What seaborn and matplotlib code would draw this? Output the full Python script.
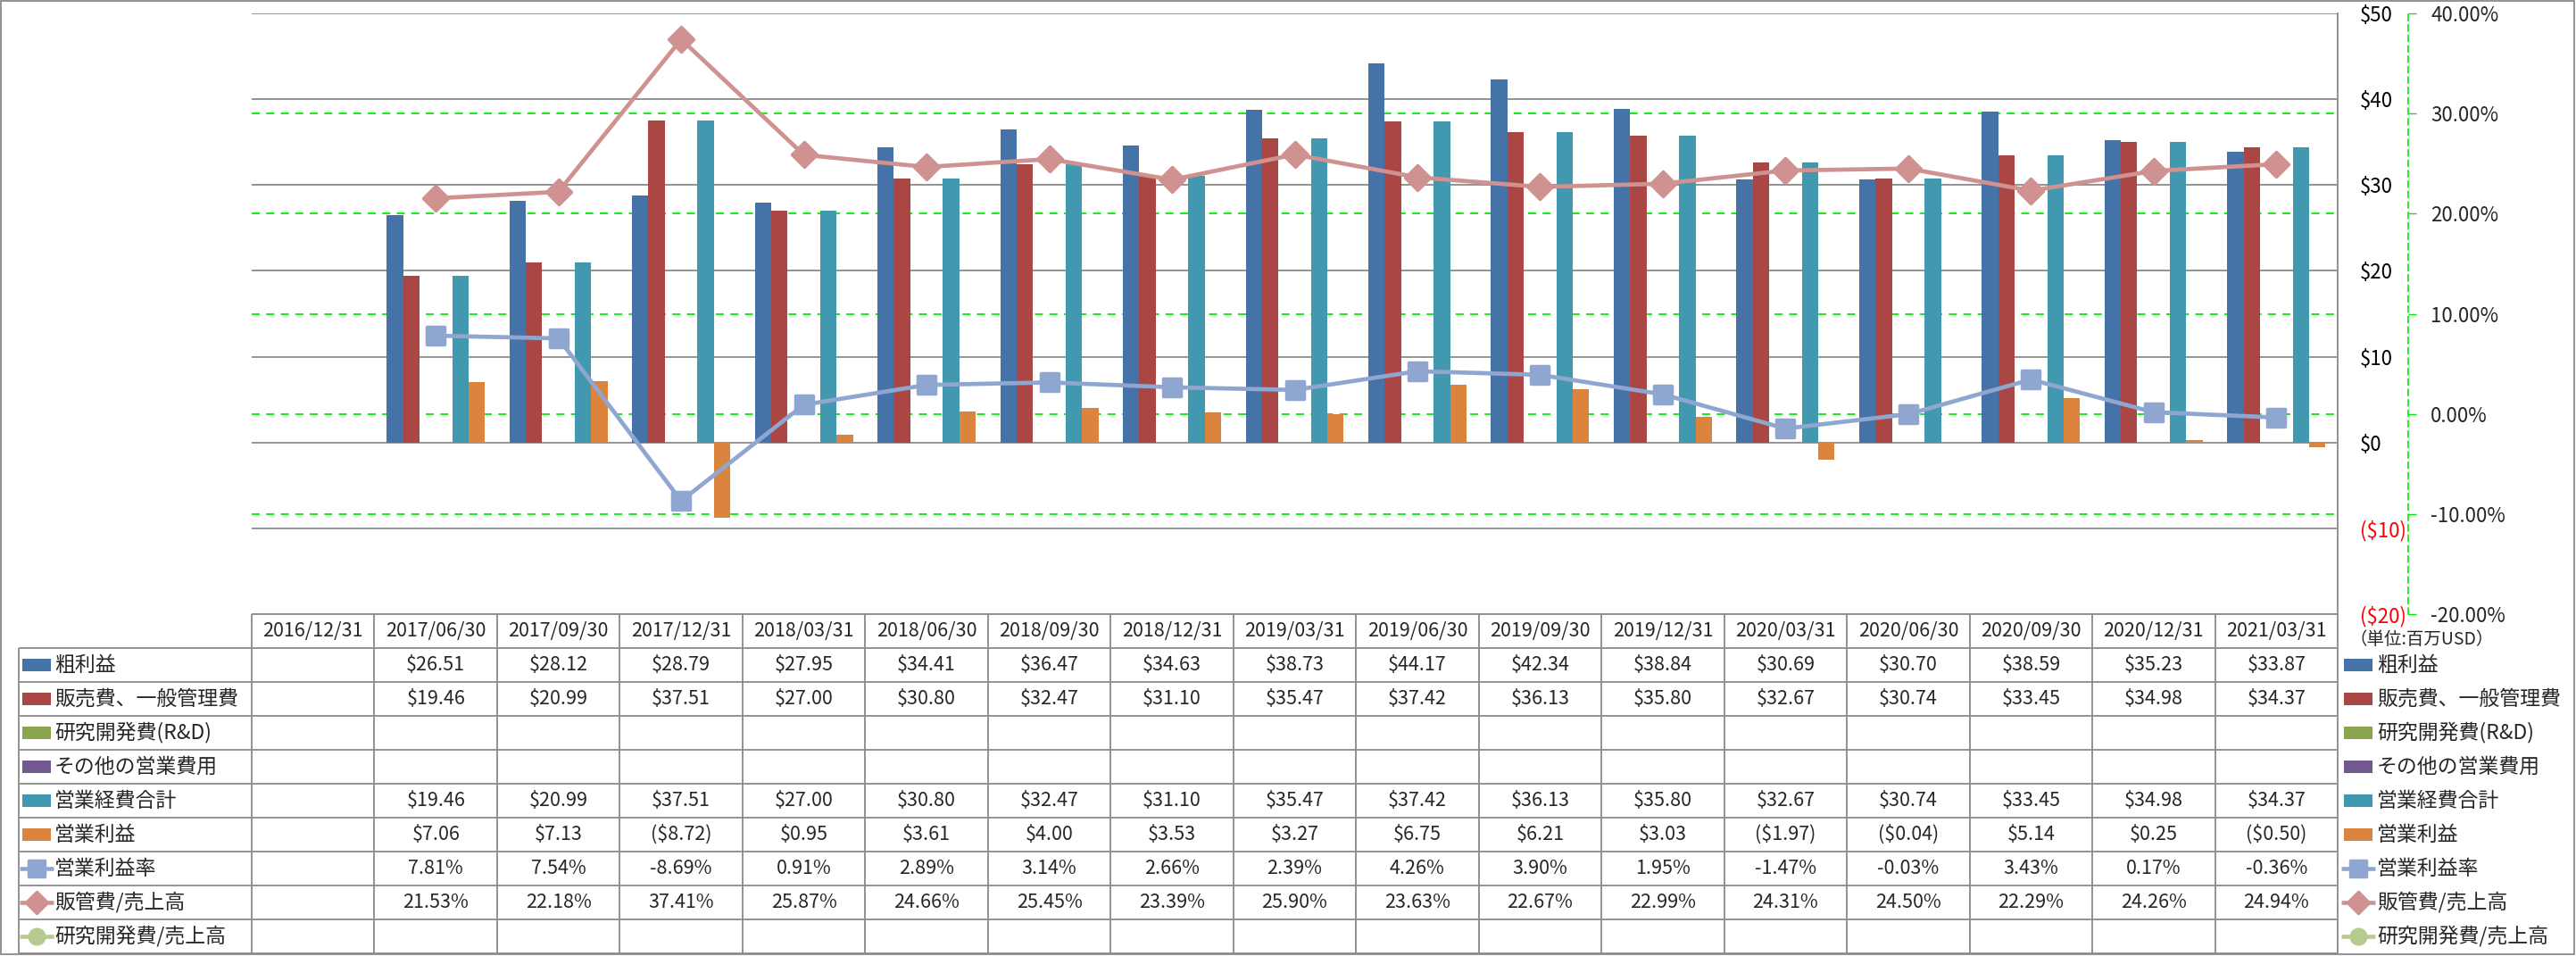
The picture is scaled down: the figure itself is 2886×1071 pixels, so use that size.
import numpy as np
import pandas as pd
import seaborn as sns
import matplotlib
matplotlib.use("Agg")
from matplotlib import pyplot as plt
from matplotlib.markers import MarkerStyle
from matplotlib.patches import Rectangle
from matplotlib.transforms import blended_transform_factory

# categories (quarter end dates)
DATES = ["2016/12/31", "2017/06/30", "2017/09/30", "2017/12/31", "2018/03/31",
         "2018/06/30", "2018/09/30", "2018/12/31", "2019/03/31", "2019/06/30",
         "2019/09/30", "2019/12/31", "2020/03/31", "2020/06/30", "2020/09/30",
         "2020/12/31", "2021/03/31"]

# bar series (million USD)
GROSS = [np.nan, 26.51, 28.12, 28.79, 27.95, 34.41, 36.47, 34.63, 38.73, 44.17,
         42.34, 38.84, 30.69, 30.70, 38.59, 35.23, 33.87]
SGA = [np.nan, 19.46, 20.99, 37.51, 27.00, 30.80, 32.47, 31.10, 35.47, 37.42,
       36.13, 35.80, 32.67, 30.74, 33.45, 34.98, 34.37]
RND = [np.nan] * 17
OTHER = [np.nan] * 17
OPEX = [np.nan, 19.46, 20.99, 37.51, 27.00, 30.80, 32.47, 31.10, 35.47, 37.42,
        36.13, 35.80, 32.67, 30.74, 33.45, 34.98, 34.37]
OP_INC = [np.nan, 7.06, 7.13, -8.72, 0.95, 3.61, 4.00, 3.53, 3.27, 6.75,
          6.21, 3.03, -1.97, -0.04, 5.14, 0.25, -0.50]

# line series (%)
OP_MARGIN = [np.nan, 7.81, 7.54, -8.69, 0.91, 2.89, 3.14, 2.66, 2.39, 4.26,
             3.90, 1.95, -1.47, -0.03, 3.43, 0.17, -0.36]
SGA_RATIO = [np.nan, 21.53, 22.18, 37.41, 25.87, 24.66, 25.45, 23.39, 25.90, 23.63,
             22.67, 22.99, 24.31, 24.50, 22.29, 24.26, 24.94]
RND_RATIO = [np.nan] * 17

BAR_NAMES = ["粗利益", "販売費、一般管理費", "研究開発費(R&D)", "その他の営業費用", "営業経費合計", "営業利益"]
BAR_VALUES = [GROSS, SGA, RND, OTHER, OPEX, OP_INC]
BAR_COLORS = ["#4572A7", "#AA4643", "#89A54E", "#71588F", "#4198AF", "#DB843D"]

LINE_NAMES = ["営業利益率", "販管費/売上高", "研究開発費/売上高"]
LINE_VALUES = [OP_MARGIN, SGA_RATIO, RND_RATIO]
LINE_COLORS = ["#8FA7D0", "#D09191", "#B5CB8F"]
LINE_MARKERS = ["s", "D", "o"]
LINE_MS = [14.5, 14, 14]

USD_TICKS = [-20, -10, 0, 10, 20, 30, 40, 50]
PCT_TICKS = [-20, -10, 0, 10, 20, 30, 40]

sns.set_theme(style="white")
plt.rcParams["font.family"] = ["Noto Sans CJK JP", "DejaVu Sans"]

W, H = 2886, 1071
PL, PR, PT, PB = 282, 2619, 15, 688
ROW_H = 38
GRID_C = "#8a8a8a"
GREEN = "#00ee00"

fig = plt.figure(figsize=(W / 100, H / 100), dpi=100)
ov = fig.add_axes([0, 0, 1, 1])
ov.set_xlim(0, W)
ov.set_ylim(H, 0)
ov.axis("off")
ov.patch.set_visible(False)

ax = fig.add_axes([PL / W, 1 - PB / H, (PR - PL) / W, (PB - PT) / H])

# bars
rows = []
for name, vals in zip(BAR_NAMES, BAR_VALUES):
    for d, v in zip(DATES, vals):
        rows.append({"date": d, "series": name, "value": v})
df = pd.DataFrame(rows)
sns.barplot(data=df, x="date", y="value", hue="series", order=DATES, hue_order=BAR_NAMES,
            palette=BAR_COLORS, saturation=1, width=0.8, errorbar=None, legend=False,
            linewidth=0, ax=ax)

n = len(DATES)
ax2 = ax.twinx()

ax.set_xlim(-0.5, n - 0.5)
ax.set_ylim(-20, 50)
ax.set_xlabel("")
ax.set_ylabel("")
ax.tick_params(axis="x", bottom=False, labelbottom=False)
ax.yaxis.tick_right()
ax.set_yticks(USD_TICKS, labels=[f"${t}" if t >= 0 else f"(${-t})" for t in USD_TICKS])
ax.tick_params(axis="y", left=False, labelleft=False, right=True, labelright=True,
               length=0, pad=18, labelsize=16)
for lbl, t in zip(ax.get_yticklabels(which="major"), USD_TICKS):
    lbl.set_color("red" if t < 0 else "black")
ax.grid(axis="y", color=GRID_C, lw=1.3)
ax.set_axisbelow(True)
for s in ["left", "top", "bottom"]:
    ax.spines[s].set_visible(False)
ax.spines["right"].set_color(GRID_C)
ax.spines["right"].set_linewidth(1.3)
ax.patch.set_visible(False)

# secondary (%) axis
ax2.set_ylim(-20, 40)
ax2.set_yticks(PCT_TICKS, labels=[f"{t:.2f}%" for t in PCT_TICKS])
for lbl, t in zip(ax2.get_yticklabels(), PCT_TICKS):
    lbl.set_color("red" if t < 0 else "black")
ax2.tick_params(axis="y", direction="out", length=6.5, width=1, color=GREEN,
                pad=11.5, labelsize=16)
for s in ["left", "top", "bottom"]:
    ax2.spines[s].set_visible(False)
ax2.spines["right"].set_position(("outward", 57))
ax2.spines["right"].set_color(GREEN)
ax2.spines["right"].set_linestyle((0, (4, 3)))
ax2.spines["right"].set_linewidth(1.2)

# green % gridlines behind bars
pct_tr = blended_transform_factory(ax.transAxes, ax2.transData)
ax.hlines([t for t in PCT_TICKS if -20 < t < 40], 0, 1, transform=pct_tr,
          colors=GREEN, linestyles=(0, (5, 4)), lw=1.3, zorder=0.6)

# lines
xs = np.arange(n)
for name, vals, c, m, ms in zip(LINE_NAMES, LINE_VALUES, LINE_COLORS, LINE_MARKERS, LINE_MS):
    if np.all(np.isnan(vals)):
        continue
    sns.lineplot(x=xs, y=vals, ax=ax2, color=c, lw=3.4,
                 marker=MarkerStyle(m, joinstyle="round"), markersize=ms,
                 mfc=c, mec=c, mew=2.5, legend=False)
ax2.set_xlim(-0.5, n - 0.5)
ax2.set_ylabel("")

# data table
tx = blended_transform_factory(ax.transData, ov.transData)
row_tops = [PB + ROW_H * (i + 1) for i in range(10)]
bottom = row_tops[-1]
ov.hlines(PB, -0.5, n - 0.5, transform=tx, colors=GRID_C, lw=1.3)
ov.hlines(row_tops, 21, PR, colors=GRID_C, lw=1.3)
ov.vlines(np.arange(n + 1) - 0.5, PB, bottom, transform=tx, colors=GRID_C, lw=1.3)
ov.vlines(21, row_tops[0], bottom, colors=GRID_C, lw=1.3)

for i, d in enumerate(DATES):
    ov.text(i, PB + ROW_H / 2, d, transform=tx, ha="center", va="center", fontsize=15.5)


def money(v):
    if np.isnan(v):
        return ""
    return f"${v:.2f}" if v >= 0 else f"(${-v:.2f})"


def pct(v):
    return "" if np.isnan(v) else f"{v:.2f}%"


def draw_key(x0, y, kind, color, marker=None, ms=None):
    if kind == "bar":
        ov.add_patch(Rectangle((x0, y - 7), 32, 14, color=color, lw=0))
    else:
        ov.plot([x0 - 3, x0 + 35], [y, y], color=color, lw=3.3, solid_capstyle="butt")
        ov.plot([x0 + 16], [y], marker=MarkerStyle(marker, joinstyle="round"), ms=ms,
                mfc=color, mec=color, mew=2.5, color=color)


table_rows = []
for name, vals, c in zip(BAR_NAMES, BAR_VALUES, BAR_COLORS):
    table_rows.append((name, [money(v) for v in vals], "bar", c, None, None))
for name, vals, c, m, ms in zip(LINE_NAMES, LINE_VALUES, LINE_COLORS, LINE_MARKERS, LINE_MS):
    table_rows.append((name, [pct(v) for v in vals], "line", c, m, ms - 2))

for r, (name, texts, kind, c, m, ms) in enumerate(table_rows):
    y = row_tops[r] + ROW_H / 2
    draw_key(25, y, kind, c, m, ms)
    ov.text(61, y, name, ha="left", va="center", fontsize=16.5)
    draw_key(2626, y, kind, c, m, ms)
    ov.text(2663, y, name, ha="left", va="center", fontsize=16.5)
    for i, t in enumerate(texts):
        if t:
            ov.text(i, y, t, transform=tx, ha="center", va="center", fontsize=15.5)

ov.text(2632, 717, "（単位:百万USD）", ha="left", va="center", fontsize=14)

# chart border
ov.add_patch(Rectangle((1, 1), W - 3, H - 3, fill=False, ec=GRID_C, lw=1.3))

fig.savefig("out.png", dpi=100)
